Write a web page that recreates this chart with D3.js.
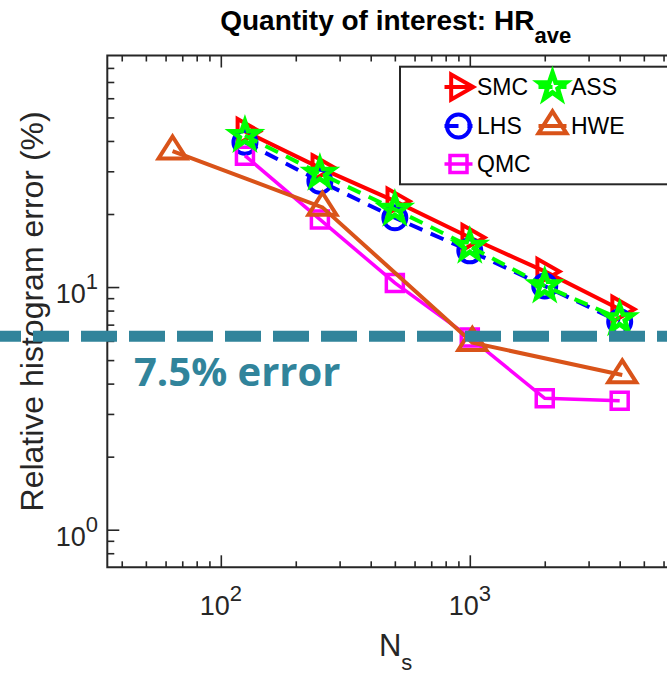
<!DOCTYPE html>
<html>
<head>
<meta charset="utf-8">
<script src="https://cdn.jsdelivr.net/npm/d3@7"></script>
<style>
  body { margin: 0; background: #fff; }
  svg { display: block; font-family: "Liberation Sans", Arial, sans-serif; }
</style>
</head>
<body>
<script>
// sample sizes
const nsMain = [125, 250, 500, 1000, 2000, 4000];
const nsHwe = [64, 256, 1024, 4096];

// relative histogram error (%)
const smcErr = [43.8, 31.0, 22.6, 16.0, 11.6, 8.1];
const assErr = [42.1, 29.4, 20.9, 14.7, 10.1, 7.4];
const lhsErr = [39.5, 27.3, 19.3, 14.1, 10.1, 7.2];
const hweErr = [36.3, 21.3, 5.9, 4.34];
const qmcErr = [34.8, 19.0, 10.4, 6.2, 3.48, 3.40];

const xMajor = [100, 1000];
const xMinor = [40, 50, 60, 70, 80, 90, 200, 300, 400, 500, 600, 700, 800, 900, 2000, 3000, 4000, 5000, 6000, 7000];
const yMajor = [1, 10];
const yMinor = [0.8, 0.9, 2, 3, 4, 5, 6, 7, 8, 9, 20, 30, 40, 50, 60, 70, 80];

const thresholdErr = 6.27;
const thresholdLabel = "7.5% error";

const W = 667, H = 676;
const pLeft = 107.3, pRight = 684, pTop = 55.5, pBottom = 567.3;
const axisCol = "#262626";

const svg = d3.select("body").append("svg").attr("width", W).attr("height", H);

const x = d3.scaleLog().domain([35, 7250]).range([pLeft, pRight]);
const y = d3.scaleLog().domain([0.7, 90]).range([pBottom, pTop]);

// ticks (inward, MATLAB style)
function tickAxis(axisFn, pos, vals, size) {
  svg.append("g")
    .attr("transform", pos)
    .call(axisFn.tickValues(vals).tickSize(size).tickFormat(""))
    .call(g => g.select(".domain").remove())
    .call(g => g.selectAll("line").attr("stroke", axisCol).attr("stroke-width", 1.6));
}
tickAxis(d3.axisBottom(x), `translate(0,${pBottom})`, xMajor, -12);
tickAxis(d3.axisBottom(x), `translate(0,${pBottom})`, xMinor, -6);
tickAxis(d3.axisTop(x), `translate(0,${pTop})`, xMajor, -12);
tickAxis(d3.axisTop(x), `translate(0,${pTop})`, xMinor, -6);
tickAxis(d3.axisLeft(y), `translate(${pLeft},0)`, yMajor, -12);
tickAxis(d3.axisLeft(y), `translate(${pLeft},0)`, yMinor, -7);

// box
svg.append("path")
  .attr("d", `M${pRight},${pTop}H${pLeft}V${pBottom}H${pRight}`)
  .attr("fill", "none").attr("stroke", axisCol).attr("stroke-width", 2);

// tick labels
xMajor.forEach(v => {
  const t = svg.append("text").attr("x", x(v)).attr("y", 615)
    .attr("text-anchor", "middle").attr("font-size", 27).attr("fill", axisCol);
  t.append("tspan").text("10");
  t.append("tspan").attr("dy", -14).attr("font-size", 22).text(Math.round(Math.log10(v)));
});
yMajor.forEach(v => {
  const t = svg.append("text").attr("x", 98).attr("y", y(v) + 16)
    .attr("text-anchor", "end").attr("font-size", 27).attr("fill", axisCol);
  t.append("tspan").text("10");
  t.append("tspan").attr("dy", -14).attr("font-size", 22).text(Math.round(Math.log10(v)));
});

// axis labels + title
const xl = svg.append("text").attr("x", (pLeft + pRight) / 2).attr("y", 656)
  .attr("text-anchor", "middle").attr("font-size", 31).attr("fill", axisCol);
xl.append("tspan").text("N");
xl.append("tspan").attr("dy", 14).attr("font-size", 22).text("s");

svg.append("text")
  .attr("transform", `translate(43,${(pTop + pBottom) / 2}) rotate(-90)`)
  .attr("text-anchor", "middle").attr("font-size", 32).attr("fill", axisCol)
  .text("Relative histogram error (%)");

const tt = svg.append("text").attr("x", (pLeft + pRight) / 2).attr("y", 30)
  .attr("text-anchor", "middle").attr("font-size", 28).attr("font-weight", "bold").attr("fill", "#000");
tt.append("tspan").text("Quantity of interest: HR");
tt.append("tspan").attr("dy", 12.7).attr("font-size", 22).text("ave");

// marker shapes
function starPath(R, r) {
  let p = [];
  for (let i = 0; i < 10; i++) {
    const a = -Math.PI / 2 + i * Math.PI / 5;
    const rr = i % 2 ? r : R;
    p.push([rr * Math.cos(a), rr * Math.sin(a)]);
  }
  return "M" + p.map(d => d.join(",")).join("L") + "Z";
}
const shapes = {
  triRight: (() => { const w = 22, h = 25; return `M${-w/3},${-h/2}L${2*w/3},0L${-w/3},${h/2}Z`; })(),
  triUp: (() => { const w = 28, h = 22; return `M0,${-2*h/3}L${w/2},${h/3}L${-w/2},${h/3}Z`; })(),
  circle: d3.symbol(d3.symbolCircle, Math.PI * 11.5 * 11.5)(),
  square: "M-8.5,-8.5H8.5V8.5H-8.5Z",
  star: starPath(14, 5.5)
};

const series = [
  { name: "SMC", xs: nsMain, ys: smcErr, color: "#FF0000", dash: null, shape: "triRight", lw: 4 },
  { name: "LHS", xs: nsMain, ys: lhsErr, color: "#0000FF", dash: "14,9", shape: "circle", lw: 4 },
  { name: "QMC", xs: nsMain, ys: qmcErr, color: "#FF00FF", dash: null, shape: "square", lw: 3.5 },
  { name: "HWE", xs: nsHwe, ys: hweErr, color: "#D95319", dash: null, shape: "triUp", lw: 4 },
  { name: "ASS", xs: nsMain, ys: assErr, color: "#00FF00", dash: "14,9", shape: "star", lw: 4, mlw: 4.8 }
];

const line = d3.line().x(d => x(d[0])).y(d => y(d[1]));
series.forEach(s => {
  const pts = s.xs.map((v, i) => [v, s.ys[i]]);
  const g = svg.append("g");
  g.append("path").attr("d", line(pts)).attr("fill", "none")
    .attr("stroke", s.color).attr("stroke-width", s.lw)
    .attr("stroke-dasharray", s.dash);
  g.selectAll("path.mk").data(pts).join("path").attr("class", "mk")
    .attr("d", shapes[s.shape])
    .attr("transform", d => `translate(${x(d[0])},${y(d[1])})`)
    .attr("fill", "none").attr("stroke", s.color).attr("stroke-width", s.mlw || s.lw)
    .attr("stroke-linejoin", "miter");
});

// legend
const legendOrder = ["SMC", "ASS", "LHS", "HWE", "QMC"];
svg.append("rect").attr("x", 400).attr("y", 66.7).attr("width", 320).attr("height", 117.6)
  .attr("fill", "#fff").attr("stroke", axisCol).attr("stroke-width", 2);
legendOrder.forEach((name, i) => {
  const s = series.find(d => d.name === name);
  const cx = i % 2 ? 552.5 : 458.5;
  const cy = [87, 126, 164][Math.floor(i / 2)];
  const g = svg.append("g").attr("transform", `translate(${cx},${cy})`);
  g.append("line").attr("x1", -14).attr("x2", 14)
    .attr("stroke", s.color).attr("stroke-width", s.lw).attr("stroke-dasharray", s.dash);
  g.append("path").attr("d", shapes[s.shape]).attr("fill", "none")
    .attr("stroke", s.color).attr("stroke-width", s.mlw || s.lw);
  svg.append("text").attr("x", cx + 18.5).attr("y", cy + 8)
    .attr("font-size", 23).attr("fill", "#000").text(name);
});

// 7.5% error annotation overlay
svg.append("line").attr("x1", 0).attr("x2", W)
  .attr("y1", y(thresholdErr)).attr("y2", y(thresholdErr))
  .attr("stroke", "#31849B").attr("stroke-width", 11)
  .attr("stroke-dasharray", "36,12").attr("stroke-dashoffset", 15);
svg.append("text").attr("x", 134).attr("y", 386)
  .attr("font-family", "'Open Sans', sans-serif").attr("font-weight", "bold")
  .attr("font-size", 40).attr("fill", "#31849B").text(thresholdLabel);
</script>
</body>
</html>
